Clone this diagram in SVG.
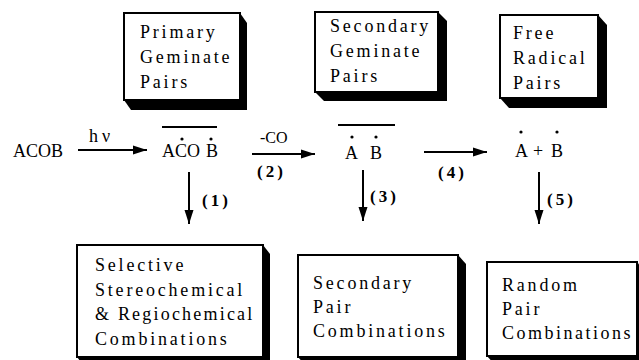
<svg xmlns="http://www.w3.org/2000/svg" width="639" height="360" viewBox="0 0 639 360">
<defs>
<style>
.box{fill:#fff;stroke:#000;stroke-width:2}
.sh{fill:#000}
.lbl{font-family:"Liberation Serif","Times New Roman",serif;font-size:18px;letter-spacing:2.8px;fill:#000}
.chem{font-family:"Liberation Serif","Times New Roman",serif;font-size:18px;fill:#000}
.small{font-family:"Liberation Serif","Times New Roman",serif;font-size:16px;fill:#000}
.num{font-family:"Liberation Serif","Times New Roman",serif;font-size:17px;font-weight:bold;letter-spacing:3px;fill:#000}
.arr{stroke:#000;stroke-width:2;fill:none;marker-end:url(#ah)}
.bar{stroke:#000;stroke-width:2}
.dot{fill:#000}
</style>
<marker id="ah" markerUnits="userSpaceOnUse" markerWidth="14" markerHeight="10" refX="14" refY="5" orient="auto">
<path d="M0,0.5 L14,5 L0,9.5 z" fill="#000"/>
</marker>
</defs>
<rect width="639" height="360" fill="#fff"/>

<g id="primary">
<polygon class="sh" points="240,13 247,23 247,110 131,110 124,100"/>
<rect class="box" x="124" y="13" width="116" height="87"/>
<text class="lbl" x="140" y="38">Primary</text>
<text class="lbl" x="140" y="63">Geminate</text>
<text class="lbl" x="140" y="88">Pairs</text>
</g>

<g id="secondary">
<polygon class="sh" points="438,12 447,21 447,101 324,101 315,92"/>
<rect class="box" x="315" y="12" width="123" height="80"/>
<text class="lbl" x="330" y="32">Secondary</text>
<text class="lbl" x="330" y="57">Geminate</text>
<text class="lbl" x="330" y="82">Pairs</text>
</g>

<g id="free">
<polygon class="sh" points="598,15 607,25 607,108 509,108 500,98"/>
<rect class="box" x="500" y="15" width="98" height="83"/>
<text class="lbl" x="513" y="39">Free</text>
<text class="lbl" x="513" y="64">Radical</text>
<text class="lbl" x="513" y="89">Pairs</text>
</g>

<g id="selective">
<polygon class="sh" points="263,245 270,254 270,366 84,366 77,357"/>
<rect class="box" x="77" y="245" width="186" height="112"/>
<text class="lbl" x="95" y="271">Selective</text>
<text class="lbl" x="95" y="296">Stereochemical</text>
<text class="lbl" x="95" y="320" style="letter-spacing:2.2px">&amp; Regiochemical</text>
<text class="lbl" x="95" y="345">Combinations</text>
</g>

<g id="secpair">
<polygon class="sh" points="458,255 466,264 466,366 306,366 298,357"/>
<rect class="box" x="298" y="255" width="160" height="102"/>
<text class="lbl" x="313" y="289">Secondary</text>
<text class="lbl" x="313" y="313">Pair</text>
<text class="lbl" x="313" y="337">Combinations</text>
</g>

<g id="random">
<polygon class="sh" points="637,262 645,271 645,365 495,365 487,356"/>
<rect class="box" x="487" y="262" width="150" height="94"/>
<text class="lbl" x="502" y="291">Random</text>
<text class="lbl" x="502" y="315">Pair</text>
<text class="lbl" x="502" y="339" style="letter-spacing:2.5px">Combinations</text>
</g>

<g id="acob">
<text class="chem" x="13" y="157">ACOB</text>
</g>

<g id="acob-pair">
<line class="bar" x1="162" y1="127" x2="217" y2="127"/>
<text class="chem" x="162" y="157">ACO</text>
<text class="chem" x="206" y="157">B</text>
<circle class="dot" cx="182" cy="139" r="1.6"/>
<circle class="dot" cx="211" cy="139" r="1.6"/>
</g>

<g id="ab-pair">
<line class="bar" x1="338" y1="125" x2="395" y2="125"/>
<text class="chem" x="345" y="159">A</text>
<text class="chem" x="370" y="159">B</text>
<circle class="dot" cx="352" cy="137" r="1.6"/>
<circle class="dot" cx="376" cy="137" r="1.6"/>
</g>

<g id="a-plus-b">
<text class="chem" x="515" y="157">A</text>
<text class="chem" x="533" y="157">+</text>
<text class="chem" x="551" y="157">B</text>
<circle class="dot" cx="521" cy="132" r="1.6"/>
<circle class="dot" cx="557" cy="132" r="1.6"/>
</g>

<g id="connectors">
<line class="arr" x1="78" y1="150" x2="147" y2="150"/>
<line class="arr" x1="252" y1="154" x2="315" y2="154"/>
<line class="arr" x1="424" y1="152" x2="487" y2="152"/>
<line class="arr" x1="189" y1="172" x2="189" y2="224"/>
<line class="arr" x1="363" y1="170" x2="363" y2="221"/>
<line class="arr" x1="539" y1="172" x2="539" y2="224"/>
</g>
<g id="connector-labels">
<text class="chem" x="89" y="142" style="letter-spacing:4px">hν</text>
<text class="small" x="260" y="143">-CO</text>
<text class="num" x="257" y="177">(2)</text>
<text class="num" x="438" y="178">(4)</text>
<text class="num" x="202" y="206">(1)</text>
<text class="num" x="370" y="202">(3)</text>
<text class="num" x="547" y="205">(5)</text>
</g>
</svg>
